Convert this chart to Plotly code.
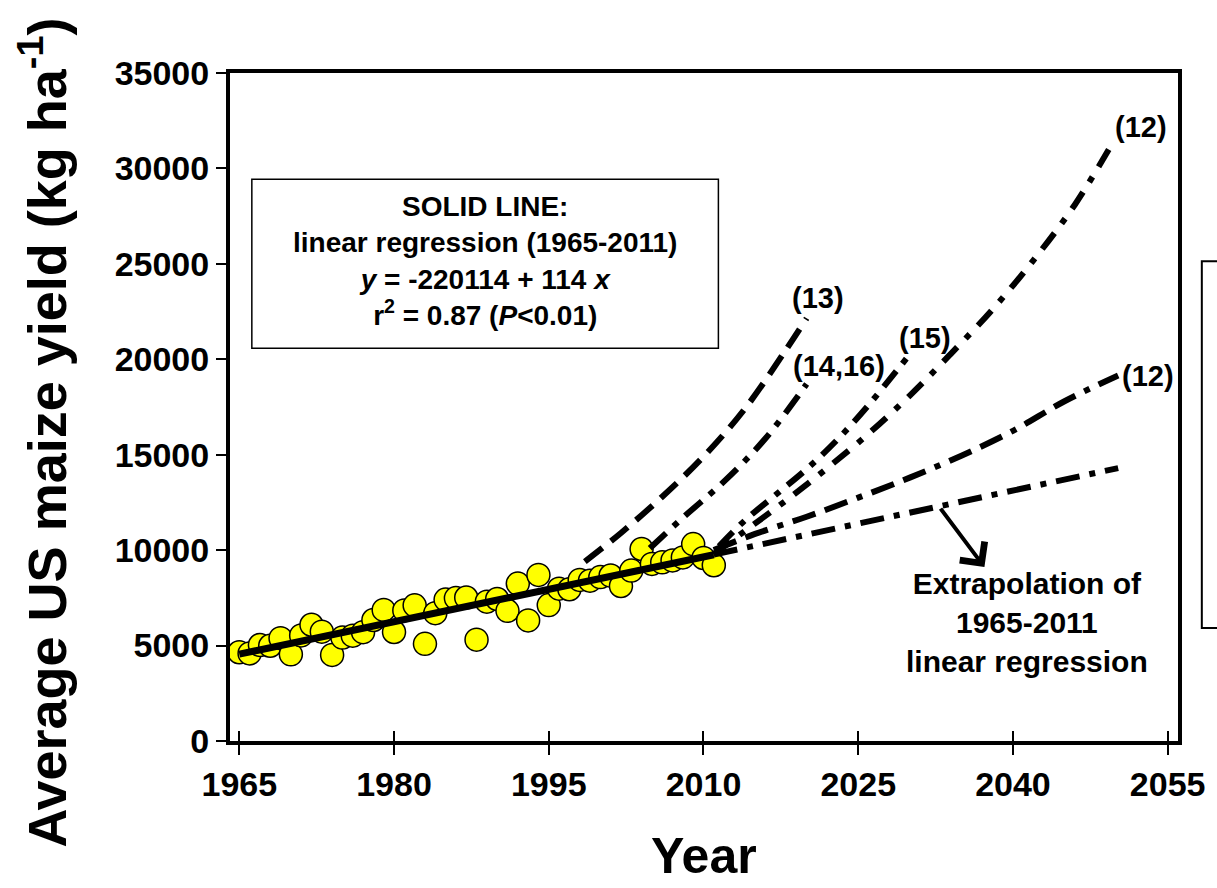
import plotly.graph_objects as go

# ---------------- data ----------------
years = list(range(1965, 2012))
yield_kg = [4650, 4590, 5030, 4990, 5390, 4540, 5530, 6090, 5730, 4510,
            5420, 5520, 5700, 6340, 6870, 5710, 6840, 7110, 5090, 6700,
            7410, 7490, 7520, 5310, 7300, 7440, 6820, 8250, 6320, 8700,
            7120, 7980, 7950, 8440, 8400, 8590, 8670, 8120, 8930, 10060,
            9280, 9360, 9460, 9620, 10320, 9590, 9210]

reg_years = [1965, 2011]
reg_vals = [4550, 9760]

p13_years = [1998.5, 2002, 2006, 2010, 2014, 2018, 2020]
p13_vals = [9400, 10900, 12800, 14900, 17400, 20500, 22150]

p1416_years = [2004.8, 2008, 2012, 2016, 2020]
p1416_vals = [10100, 11700, 13600, 15850, 18700]

p15_years = [2011.5, 2014, 2017, 2020, 2023, 2026, 2029.7]
p15_vals = [10200, 11550, 12900, 14250, 15800, 17600, 20060]

p12a_years = [2011, 2014, 2018, 2022, 2026, 2030, 2034, 2038, 2042, 2046, 2049.7]
p12a_vals = [9800, 11000, 12600, 14300, 16100, 18100, 20300, 22600, 25200, 28100, 31370]

p12b_years = [2011, 2015, 2020, 2025, 2030, 2035, 2040, 2045, 2050.2]
p12b_vals = [10000, 10850, 11750, 12750, 13800, 14950, 16250, 17800, 19150]

extrap_years = [2011, 2050.2]
extrap_vals = [9770, 14300]

x_ticks = [1965, 1980, 1995, 2010, 2025, 2040, 2055]
y_ticks = [0, 5000, 10000, 15000, 20000, 25000, 30000, 35000]

FONT = "Liberation Sans, Arial, sans-serif"

# ---------------- figure ----------------
fig = go.Figure()

fig.add_trace(go.Scatter(
    x=years, y=yield_kg, mode="markers",
    marker=dict(size=23, color="#FFFF00", line=dict(color="black", width=1.5)),
    showlegend=False, hoverinfo="skip"))

fig.add_trace(go.Scatter(
    x=reg_years, y=reg_vals, mode="lines",
    line=dict(color="black", width=7), showlegend=False))

proj = [
    (p13_years, p13_vals, "22px,11px"),
    (p1416_years, p1416_vals, "22px,10px,6px,10px"),
    (p15_years, p15_vals, "20px,10px,6px,10px"),
    (p12a_years, p12a_vals, "20px,12px,6px,12px"),
    (p12b_years, p12b_vals, "24px,10px,24px,10px,6px,10px"),
    (extrap_years, extrap_vals, "24px,10px,6px,10px"),
]
for xs, ys, dash in proj:
    fig.add_trace(go.Scatter(
        x=xs, y=ys, mode="lines",
        line=dict(color="black", width=6, dash=dash, shape="spline", smoothing=1.0),
        showlegend=False))

# invisible trace on overlay axis for cross ticks
fig.add_trace(go.Scatter(x=[2000], y=[0], xaxis="x2", mode="markers",
                         marker=dict(opacity=0), showlegend=False, hoverinfo="skip"))


def px(xp):
    return (xp - 230) / 955.0


def py(yp):
    return (741 - yp) / 668.3


annotations = []
# box text (single block)
annotations.append(dict(
    text=("<b>SOLID LINE:</b><br>"
          "<b>linear regression (1965-2011)</b><br>"
          "<b><i>y</i> = -220114 + 114 <i>x</i></b><br>"
          "<b>r<sup>2</sup> = 0.87 (<i>P</i>&lt;0.01)</b>"),
    x=px(487), y=py(261), xref="paper", yref="paper",
    xanchor="center", yanchor="middle", showarrow=False, align="center",
    font=dict(family=FONT, size=28, color="black")))

labels = [
    ("(13)", 822, 298),
    ("(14,16)", 844, 366),
    ("(15)", 930, 338),
    ("(12)", 1148, 127),
    ("(12)", 1155, 376),
]
for txt, xp, yp in labels:
    annotations.append(dict(text="<b>" + txt + "</b>", x=px(xp), y=py(yp), xref="paper",
                            yref="paper", xanchor="center", yanchor="middle",
                            showarrow=False, font=dict(family=FONT, size=29, color="black")))

annotations.append(dict(
    text="<b>Extrapolation of<br>1965-2011<br>linear regression</b>",
    x=px(1033), y=py(622), xref="paper", yref="paper", xanchor="center",
    yanchor="middle", showarrow=False, align="center",
    font=dict(family=FONT, size=30, color="black")))

# arrow
annotations.append(dict(
    text="", x=px(990), y=py(567), xref="paper", yref="paper",
    ax=-45, ay=-60, axref="pixel", ayref="pixel", showarrow=True,
    arrowhead=4, arrowsize=1.5, arrowwidth=4, arrowcolor="black"))

# axis titles
annotations.append(dict(
    text="<b>Average US maize yield (kg ha<sup>-1</sup>)</b>",
    x=px(42), y=py(432), xref="paper", yref="paper", xanchor="center",
    yanchor="middle", textangle=-90, showarrow=False,
    font=dict(family=FONT, size=54, color="black")))
annotations.append(dict(
    text="<b>Year</b>", x=px(708), y=py(856), xref="paper", yref="paper",
    xanchor="center", yanchor="middle", showarrow=False,
    font=dict(family=FONT, size=50, color="black")))

shapes = [
    dict(type="rect", xref="paper", yref="paper",
         x0=px(252), x1=px(722), y0=py(348), y1=py(179),
         line=dict(color="black", width=1.5), fillcolor="white", layer="below"),
    dict(type="rect", xref="paper", yref="paper",
         x0=px(1209), x1=px(1260), y0=py(628), y1=py(261),
         line=dict(color="black", width=2), fillcolor="rgba(0,0,0,0)"),
]

fig.update_layout(
    width=1217, height=888,
    margin=dict(l=230, r=32, t=73, b=147, pad=0),
    paper_bgcolor="white", plot_bgcolor="white",
    font=dict(family=FONT, color="black"),
    annotations=annotations, shapes=shapes,
    xaxis=dict(range=[1964.1, 2056], tickvals=x_ticks, ticks="outside", ticklen=10,
               tickwidth=1.5, tickcolor="black", showline=True, linewidth=4,
               linecolor="black", mirror=True, showgrid=False, zeroline=False,
               tickfont=dict(family=FONT, size=34, color="black", weight="bold")),
    xaxis2=dict(range=[1964.1, 2056], tickvals=x_ticks, ticks="inside", ticklen=10,
                tickwidth=1.5, tickcolor="black", overlaying="x", side="bottom",
                anchor="y", showticklabels=False, showline=False, showgrid=False,
                zeroline=False),
    yaxis=dict(range=[0, 35000], tickvals=y_ticks, tickformat="d", ticks="outside",
               ticklen=10, tickwidth=1.5, tickcolor="black", showline=True,
               linewidth=4, linecolor="black", mirror=True, showgrid=False,
               zeroline=False,
               tickfont=dict(family=FONT, size=34, color="black", weight="bold")),
)

fig.write_html("out.html")
